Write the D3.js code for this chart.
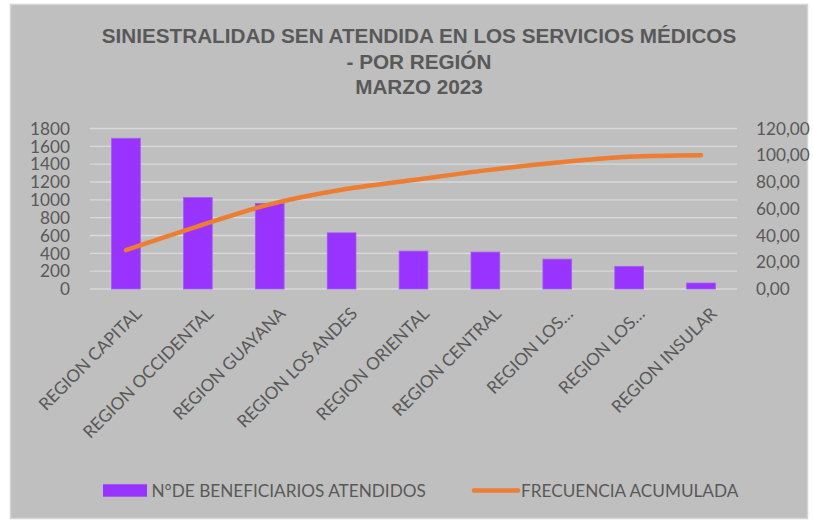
<!DOCTYPE html>
<html>
<head>
<meta charset="utf-8">
<script src="https://cdn.jsdelivr.net/npm/d3@7"></script>
<style>
  body { margin: 0; background: #ffffff; }
  svg { display: block; }
</style>
</head>
<body>
<svg id="chart" width="813" height="523"></svg>
<script>
// Data
var regiones = ["REGION CAPITAL", "REGION OCCIDENTAL", "REGION GUAYANA", "REGION LOS ANDES",
  "REGION ORIENTAL", "REGION CENTRAL", "REGION LOS…", "REGION LOS…", "REGION INSULAR"];
var beneficiarios = [1690, 1025, 958, 630, 425, 414, 335, 254, 67];
var acumulada = [29.1, 46.8, 63.3, 74.2, 81.5, 88.7, 94.5, 98.8, 100];
var ticksIzq = [0, 200, 400, 600, 800, 1000, 1200, 1400, 1600, 1800];
var ticksDer = [0, 20, 40, 60, 80, 100, 120];
var titulo = ["SINIESTRALIDAD SEN ATENDIDA EN LOS SERVICIOS MÉDICOS", "- POR REGIÓN", "MARZO 2023"];
var leyenda = ["N°DE BENEFICIARIOS ATENDIDOS", "FRECUENCIA ACUMULADA"];

var textColor = "#595959";
var barColor = "#9933ff";
var lineColor = "#ed7d31";
var font = "Lato, 'Open Sans', sans-serif";
var fsize = 17.2;

var svg = d3.select("#chart");

//chart area background
svg.append("rect")
  .attr("x", 10.5).attr("y", 4.5)
  .attr("width", 797).attr("height", 514)
  .attr("fill", "#bfbfbf")
  .attr("stroke", "#d4d4d4")
  .attr("stroke-width", 1.5);

//scales
var x = d3.scaleBand().domain(d3.range(regiones.length))
  .range([90, 737]).paddingInner(0.6).paddingOuter(0.3);
var yL = d3.scaleLinear().domain([0, 1800]).range([289, 128.5]);
var yR = d3.scaleLinear().domain([0, 120]).range([289, 128.5]);

//gridlines
svg.append("g").selectAll("line")
  .data(ticksIzq).enter().append("line")
  .attr("x1", 90).attr("x2", 737)
  .attr("y1", function(d){ return yL(d); })
  .attr("y2", function(d){ return yL(d); })
  .attr("stroke", "#d9d9d9")
  .attr("stroke-width", 1.3);

//left axis labels
svg.append("g").selectAll("text")
  .data(ticksIzq).enter().append("text")
  .attr("x", 70)
  .attr("y", function(d){ return yL(d); })
  .attr("dy", "0.36em")
  .attr("text-anchor", "end")
  .attr("font-family", font)
  .attr("font-size", fsize)
  .attr("fill", textColor)
  .text(function(d){ return d; });

//right axis labels
var fmt = d3.format(".2f");
svg.append("g").selectAll("text")
  .data(ticksDer).enter().append("text")
  .attr("x", 756)
  .attr("y", function(d){ return yR(d); })
  .attr("dy", "0.36em")
  .attr("text-anchor", "start")
  .attr("font-family", font)
  .attr("font-size", fsize)
  .attr("fill", textColor)
  .text(function(d){ return fmt(d).replace(".", ","); });

//bars
svg.append("g").selectAll("rect")
  .data(beneficiarios).enter().append("rect")
  .attr("x", function(d, i){ return x(i); })
  .attr("y", function(d){ return yL(d); })
  .attr("width", x.bandwidth())
  .attr("height", function(d){ return yL(0) - yL(d); })
  .attr("fill", barColor)
  .attr("stroke", "#a35cf0")
  .attr("stroke-width", 0.8);

//cumulative line
var line = d3.line()
  .x(function(d, i){ return x(i) + x.bandwidth() / 2; })
  .y(function(d){ return yR(d); })
  .curve(d3.curveCatmullRom);

svg.append("path")
  .datum(acumulada)
  .attr("d", line)
  .attr("fill", "none")
  .attr("stroke", lineColor)
  .attr("stroke-width", 4.5)
  .attr("stroke-linecap", "round");

//category labels
svg.append("g").selectAll("text")
  .data(regiones).enter().append("text")
  .attr("transform", function(d, i){
    return "translate(" + (x(i) + x.bandwidth() / 2 + 8) + ",306) rotate(-45)";
  })
  .attr("dy", "0.72em")
  .attr("text-anchor", "end")
  .attr("font-family", font)
  .attr("font-size", fsize)
  .attr("fill", textColor)
  .text(function(d){ return d; });

//title
svg.append("g").selectAll("text")
  .data(titulo).enter().append("text")
  .attr("x", 419)
  .attr("y", function(d, i){ return [43.3, 69.3, 94][i]; })
  .attr("text-anchor", "middle")
  .attr("font-family", "'Liberation Sans', Arial, sans-serif")
  .attr("font-weight", "bold")
  .attr("font-size", 20.7)
  .attr("fill", textColor)
  .text(function(d){ return d; });

//legend
var lg = svg.append("g");
lg.append("rect")
  .attr("x", 103).attr("y", 484.3)
  .attr("width", 44).attr("height", 12.4)
  .attr("fill", barColor);
lg.append("text")
  .attr("x", 151.5).attr("y", 496.7)
  .attr("font-family", font).attr("font-size", fsize)
  .attr("fill", textColor)
  .text(leyenda[0]);
lg.append("line")
  .attr("x1", 474).attr("x2", 518)
  .attr("y1", 490.5).attr("y2", 490.5)
  .attr("stroke", lineColor)
  .attr("stroke-width", 4.5)
  .attr("stroke-linecap", "round");
lg.append("text")
  .attr("x", 521).attr("y", 496.7)
  .attr("font-family", font).attr("font-size", fsize)
  .attr("fill", textColor)
  .text(leyenda[1]);
</script>
</body>
</html>
